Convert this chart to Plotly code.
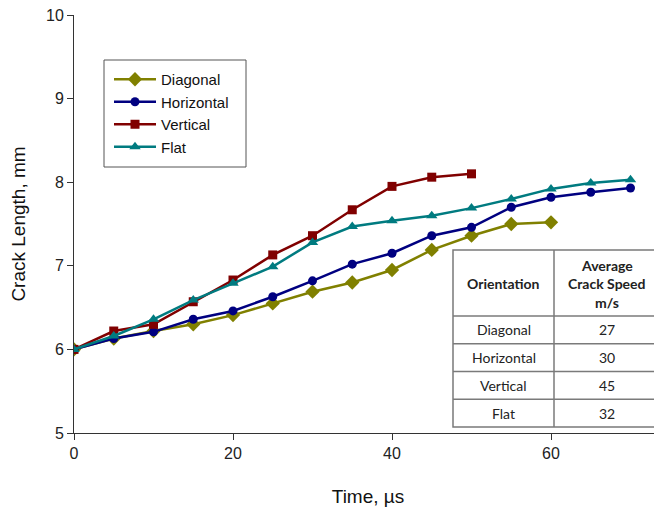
import plotly.graph_objects as go

# ---- data ----
time_diag = [0, 5, 10, 15, 20, 25, 30, 35, 40, 45, 50, 55, 60]
diag = [6.00, 6.13, 6.22, 6.30, 6.41, 6.55, 6.69, 6.80, 6.95, 7.19, 7.36, 7.50, 7.52]

time_horiz = [0, 5, 10, 15, 20, 25, 30, 35, 40, 45, 50, 55, 60, 65, 70]
horiz = [6.00, 6.13, 6.21, 6.36, 6.46, 6.63, 6.82, 7.02, 7.15, 7.36, 7.46, 7.70, 7.82, 7.88, 7.93]

time_vert = [0, 5, 10, 15, 20, 25, 30, 35, 40, 45, 50]
vert = [6.00, 6.22, 6.30, 6.57, 6.83, 7.13, 7.36, 7.67, 7.95, 8.06, 8.10]

time_flat = [0, 5, 10, 15, 20, 25, 30, 35, 40, 45, 50, 55, 60, 65, 70]
flat = [6.00, 6.16, 6.36, 6.59, 6.79, 6.99, 7.28, 7.47, 7.54, 7.60, 7.69, 7.80, 7.92, 7.99, 8.03]

orientations = ["Diagonal", "Horizontal", "Vertical", "Flat"]
speeds = ["27", "30", "45", "32"]
header_col1 = "Orientation"
header_col2_lines = ["Average", "Crack Speed", "m/s"]

x_ticks = [0, 20, 40, 60]
y_ticks = [5, 6, 7, 8, 9, 10]

# ---- layout constants (page pixels; the page body has an 8px margin) ----
OFF = 8
PAGE_W, PAGE_H = 662, 511
W, H = PAGE_W - OFF, PAGE_H - OFF
PLOT_L, PLOT_T, PLOT_B = 74, 15, 433          # page pixels
ML, MT = PLOT_L - OFF, PLOT_T - OFF
MB = PAGE_H - PLOT_B
MR = 0
PW, PH = W - ML - MR, H - MT - MB

def px_x(p):
    return (p - PLOT_L) / PW

def px_y(p):
    return (PLOT_B - p) / PH

fig = go.Figure()
series = [
    ("Diagonal", time_diag, diag, "#808000", "diamond", 11),
    ("Horizontal", time_horiz, horiz, "#000080", "circle", 9),
    ("Vertical", time_vert, vert, "#800000", "square", 9),
    ("Flat", time_flat, flat, "#007b80", "triangle-up", 10),
]
for name, xs, ys, col, sym, sz in series:
    fig.add_trace(go.Scatter(
        x=xs, y=ys, name=name, mode="lines+markers",
        line=dict(color=col, width=2.5),
        marker=dict(color=col, symbol=sym, size=sz),
    ))

shapes = []
# legend box
shapes.append(dict(type="rect", xref="paper", yref="paper",
                   x0=px_x(104), x1=px_x(246), y0=px_y(167), y1=px_y(60),
                   line=dict(color="#555555", width=1), fillcolor="white", layer="below"))

# ---- table (shapes + annotations) ----
t_left, t_mid, t_right = 453, 554, 660
t_top, t_head = 250, 316
row_h = (427 - t_head) / 4
line_style = dict(color="#7a7a7a", width=1.5)
shapes.append(dict(type="rect", xref="paper", yref="paper",
                   x0=px_x(t_left), x1=px_x(t_right), y0=px_y(t_head + 4 * row_h), y1=px_y(t_top),
                   line=line_style, fillcolor="white", layer="above"))
shapes.append(dict(type="line", xref="paper", yref="paper",
                   x0=px_x(t_mid), x1=px_x(t_mid), y0=px_y(t_head + 4 * row_h), y1=px_y(t_top),
                   line=line_style, layer="above"))
for i in range(4):
    yy = t_head + i * row_h
    shapes.append(dict(type="line", xref="paper", yref="paper",
                       x0=px_x(t_left), x1=px_x(t_right), y0=px_y(yy), y1=px_y(yy),
                       line=line_style, layer="above"))

annotations = []
tfont = dict(family="Lato, 'Open Sans', sans-serif", size=14, color="#222222")
annotations.append(dict(xref="paper", yref="paper", x=px_x((t_left + t_mid) / 2), y=px_y((t_top + t_head) / 2),
                        text="<b>" + header_col1 + "</b>", showarrow=False, font=tfont,
                        xanchor="center", yanchor="middle"))
for j, (line_text, cy) in enumerate(zip(header_col2_lines, [265.5, 283.5, 302.5])):
    annotations.append(dict(xref="paper", yref="paper", x=px_x((t_mid + t_right) / 2), y=px_y(cy),
                            text="<b>" + line_text + "</b>", showarrow=False, font=tfont,
                            xanchor="center", yanchor="middle"))
for i, (o, s) in enumerate(zip(orientations, speeds)):
    cy = t_head + (i + 0.5) * row_h
    annotations.append(dict(xref="paper", yref="paper", x=px_x((t_left + t_mid) / 2), y=px_y(cy),
                            text=o, showarrow=False, font=tfont, xanchor="center", yanchor="middle"))
    annotations.append(dict(xref="paper", yref="paper", x=px_x((t_mid + t_right) / 2), y=px_y(cy),
                            text=s, showarrow=False, font=tfont, xanchor="center", yanchor="middle"))

axis_font = dict(family="'Liberation Sans', Arial, sans-serif", size=16, color="#222222")
title_font = dict(family="'Liberation Sans', Arial, sans-serif", size=19, color="#111111")
fig.update_layout(
    width=W, height=H,
    margin=dict(l=ML, r=MR, t=MT, b=MB),
    paper_bgcolor="white", plot_bgcolor="white",
    font=dict(family="'Liberation Sans', Arial, sans-serif", color="#222222"),
    shapes=shapes, annotations=annotations,
    legend=dict(
        x=px_x(109), y=px_y(63), xanchor="left", yanchor="top",
        bgcolor="rgba(0,0,0,0)", borderwidth=0,
        font=dict(family="'Liberation Sans', Arial, sans-serif", size=15, color="#111111"),
        itemwidth=42,
    ),
    xaxis=dict(
        range=[0, PW / 7.95], tickvals=x_ticks, showgrid=False, zeroline=False,
        showline=True, linecolor="#333333", linewidth=1,
        ticks="outside", ticklen=6, tickcolor="#333333",
        tickfont=axis_font, ticklabeloverflow="allow",
        title=dict(text="Time, µs", font=title_font, standoff=28),
    ),
    yaxis=dict(
        range=[5, 10], tickvals=y_ticks, showgrid=False, zeroline=False,
        showline=True, linecolor="#333333", linewidth=1,
        ticks="outside", ticklen=6, tickcolor="#333333",
        tickfont=axis_font, ticklabeloverflow="allow",
        title=dict(text="Crack Length, mm", font=title_font, standoff=16),
    ),
)

fig.write_html("out.html")
